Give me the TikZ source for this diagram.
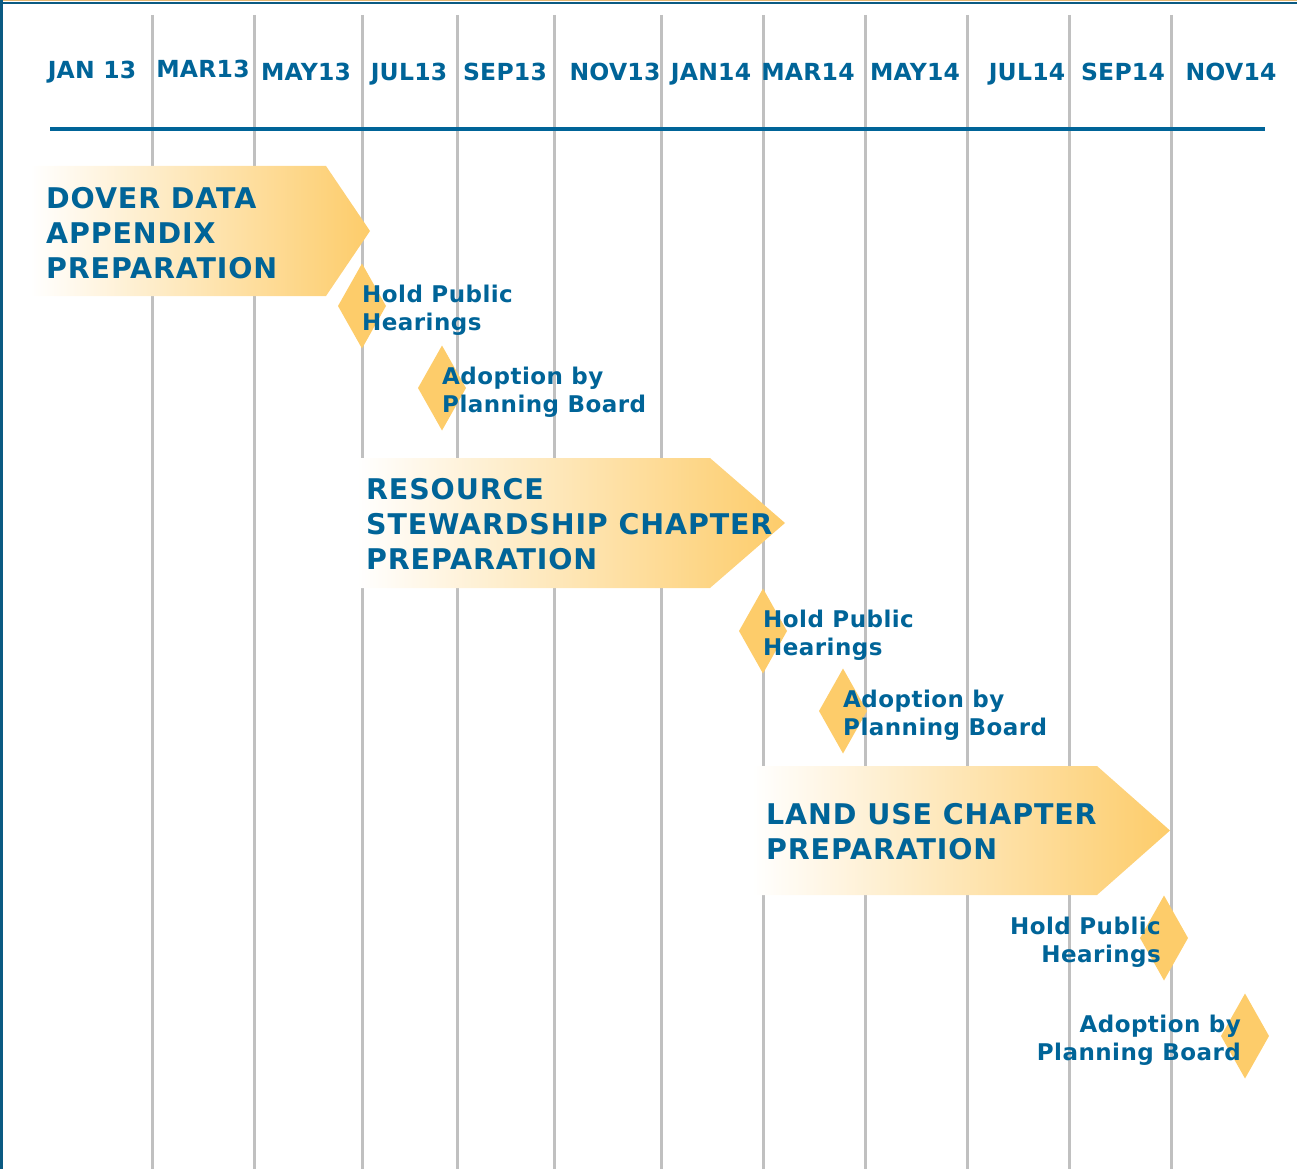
\documentclass[tikz,border=0pt]{standalone}
\usepackage{fontspec}
\setmainfont{DejaVu Sans}
\usepackage{tikz}
\usetikzlibrary{positioning, shapes.geometric}

\definecolor{planblue}{RGB}{0,100,152}
\definecolor{planyellow}{RGB}{253,204,106}
\definecolor{gridgrey}{RGB}{192,192,192}
\definecolor{frameblue}{RGB}{10,90,130}
\definecolor{frametan}{RGB}{226,180,110}

\begin{document}
\begin{tikzpicture}[
x=1pt, y=-1pt,
month/.style={
  text=planblue,
  font=\fontsize{23.5}{28}\selectfont\bfseries\addfontfeature{LetterSpace=1},
  inner sep=0pt,
  anchor=base
},
bandtitle/.style={
  text=planblue,
  font=\fontsize{28.5}{35}\selectfont\bfseries\addfontfeature{LetterSpace=3},
  align=left,
  inner sep=0pt,
  anchor=west
},
band/.style={
  left color=white,
  right color=planyellow
},
milestone/.style={diamond,
  fill=planyellow,
  minimum width=48pt,
  minimum height=85pt,
  inner sep=0pt,
  outer sep=0pt
},
mslabel/.style={
  text=planblue,
  font=\fontsize{23}{28.5}\selectfont\bfseries\addfontfeature{LetterSpace=2},
  inner sep=0pt,
  yshift=-4pt
},
gridline/.style={draw=gridgrey, line width=3pt}
]
\useasboundingbox (0,0) rectangle (1297,1169);

% frame
\draw[frametan, line width=1.5pt] (0,0.75) -- (1297,0.75);
\draw[frameblue, line width=2.5pt] (0,3) -- (1297,3);
\draw[frameblue, line width=2.5pt] (1.5,0) -- (1.5,1169);

% month grid
\draw[gridline] (152,15) -- (152,1169) (254,15) -- (254,1169)
  (362,15) -- (362,1169) (457,15) -- (457,1169)
  (554,15) -- (554,1169) (661,15) -- (661,1169)
  (763,15) -- (763,1169) (865,15) -- (865,1169)
  (967,15) -- (967,1169) (1069,15) -- (1069,1169)
  (1171,15) -- (1171,1169);

\node[month] (jan13) at (92,79)
    {JAN 13};
\node[month] (mar13) at (203,78)
    {MAR13};
\node[month] (may13) at (306,81)
    {MAY13};
\node[month] (jul13) at (409,80.5)
    {JUL13};
\node[month] (sep13) at (505,80.5)
    {SEP13};
\node[month] (nov13) at (615,80.5)
    {NOV13};
\node[month] (jan14) at (711,80.5)
    {JAN14};
\node[month] (mar14) at (808,80.5)
    {MAR14};
\node[month] (may14) at (915,80.5)
    {MAY14};
\node[month] (jul14) at (1027,80.5)
    {JUL14};
\node[month] (sep14) at (1123,80.5)
    {SEP14};
\node[month] (nov14) at (1231,80.5)
    {NOV14};

\coordinate (axl) at (50,129.5);
\coordinate (axr) at (1265,129.5);
\draw[planblue, line width=4pt] (axl) -- (axr);

% chapter bands
\shade[band] (30,166) -- (326,166) -- (370,231) -- (326,296) -- (30,296) -- cycle;
\shade[band] (357,458) -- (710,458) -- (785,523) -- (710,588) -- (357,588) -- cycle;
\shade[band] (752,766) -- (1097,766) -- (1170,830.5) -- (1097,895) -- (752,895) -- cycle;

\node[bandtitle] (dover) at (46,233)
    {DOVER DATA\\APPENDIX\\PREPARATION};
\node[bandtitle] (resource) at (366,524.5)
    {RESOURCE\\STEWARDSHIP CHAPTER\\PREPARATION};
\node[bandtitle] (landuse) at (766,832)
    {LAND USE CHAPTER\\PREPARATION};

% milestones
\node[milestone] (hear1) at (362,306) {};
\node[milestone] (adopt1) at (442,388) {};
\node[milestone] (hear2) at (763,631) {};
\node[milestone] (adopt2) at (843,711) {};
\node[milestone] (hear3) at (1164,938) {};
\node[milestone] (adopt3) at (1245,1036) {};

\node[mslabel, align=left, right=0pt of hear1.center] (hear1txt)
    {Hold Public\\Hearings};
\node[mslabel, align=left, right=0pt of adopt1.center] (adopt1txt)
    {Adoption by\\Planning Board};
\node[mslabel, align=left, right=0pt of hear2.center] (hear2txt)
    {Hold Public\\Hearings};
\node[mslabel, align=left, right=0pt of adopt2.center] (adopt2txt)
    {Adoption by\\Planning Board};
\node[mslabel, align=right, left=3pt of hear3.center] (hear3txt)
    {Hold Public\\Hearings};
\node[mslabel, align=right, left=4pt of adopt3.center] (adopt3txt)
    {Adoption by\\Planning Board};
\end{tikzpicture}
\end{document}
